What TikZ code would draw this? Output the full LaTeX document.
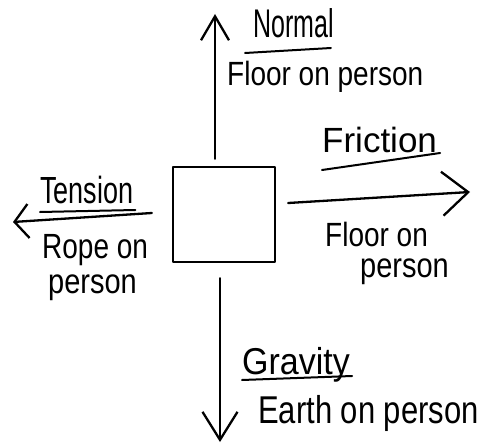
\documentclass[tikz,border=0pt]{standalone}
\usepackage{fontspec}
\setmainfont{Liberation Sans}
\usetikzlibrary{arrows.meta,calc}
\newcommand\tallish[2]{\scalebox{1}[#1]{#2}}
\begin{document}
\begin{tikzpicture}[x=1pt,y=-1pt,
  ink/.style={line width=2.3pt, line cap=round, line join=round},
  uline/.style={line width=2pt, line cap=round},
  lab/.style={anchor=base west, inner sep=0pt, font=\fontsize{#1}{#1}\selectfont}]
\useasboundingbox (0,0) rectangle (490,444);
\node[ink, draw, minimum width=102pt, minimum height=95pt, inner sep=0pt] (box) at (224,214.5) {};
\coordinate (ntip) at (215,14);
\coordinate (gtip) at (220,442);
\coordinate (ftip) at (470,192);
\coordinate (ttip) at (13,222);
\draw[ink,-{Straight Barb[length=24pt,width=28pt]}] ($(box.north)+(-9,-7)$) -- (ntip);
\draw[ink,-{Straight Barb[length=28pt,width=35pt]}] ($(box.south)+(-4,15)$) -- (gtip);
\draw[ink,-{Straight Barb[length=26pt,width=44pt]}] ($(box.east)+(12,-11.5)$) -- (ftip);
\draw[ink,-{Straight Barb[length=14pt,width=34pt]}] ($(box.west)+(-20,-1.5)$) -- (ttip);
% labels
\node[lab=25] (normal) at (253,38) {\tallish{1.6}{Normal}};
\draw[uline] ($(normal.base west)+(-8,15)$) -- ($(normal.base east)+(-3,10)$);
\node[lab=28] (nsrc) at (227,85) {\tallish{1.2}{Floor on person}};
\node[lab=35] (fric) at (322,152) {Friction};
\draw[uline] ($(fric.base west)+(0,18)$) -- ($(fric.base east)+(3,1)$);
\node[lab=28] (fsrc1) at (325,246) {\tallish{1.2}{Floor on}};
\node[lab=29] (fsrc2) at (360,277) {\tallish{1.2}{person}};
\node[lab=27] (tens) at (40,203) {\tallish{1.4}{Tension}};
\draw[uline] ($(tens.base west)+(0,9)$) -- ($(tens.base east)+(2,7)$);
\node[lab=28] (tsrc1) at (42,258) {\tallish{1.25}{Rope on}};
\node[lab=29] (tsrc2) at (48,293) {\tallish{1.2}{person}};
\node[lab=34] (grav) at (242,374) {\tallish{1.1}{Gravity}};
\draw[uline] ($(grav.base west)+(0,6)$) -- ($(grav.base east)+(2,2)$);
\node[lab=31] (esrc) at (258,423) {\tallish{1.25}{Earth on person}};
\end{tikzpicture}
\end{document}
